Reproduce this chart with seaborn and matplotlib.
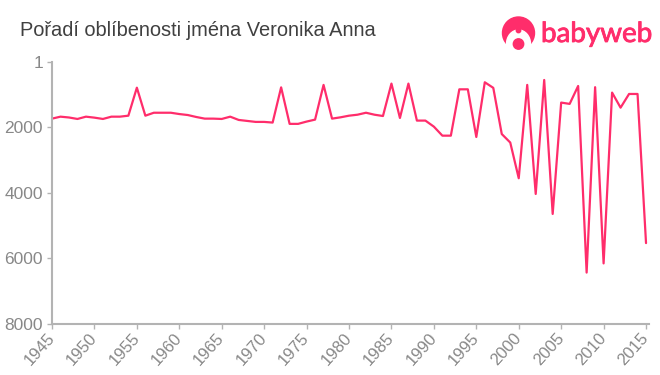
import matplotlib
matplotlib.use("Agg")
import matplotlib.pyplot as plt
from matplotlib.patches import Circle, Ellipse
import matplotlib.patheffects as pe
import pandas as pd
import seaborn as sns

years = list(range(1945, 2016))
ranks = [1730, 1670, 1695, 1740, 1670, 1700, 1740, 1670, 1670, 1640,
         785, 1640, 1550, 1550, 1550, 1590, 1620, 1680, 1730, 1730,
         1740, 1670, 1770, 1800, 1830, 1830, 1850, 775, 1890, 1890,
         1820, 1760, 700, 1730, 1690, 1640, 1610, 1550, 1610, 1650,
         660, 1710, 660, 1790, 1790, 1975, 2250, 2250, 835, 835,
         2290, 620, 790, 2200, 2460, 3550, 700, 4030, 550, 4640,
         1240, 1280, 733, 6430, 770, 6150, 935, 1395, 977, 977,
         5530]
x_ticks = list(range(1945, 2016, 5))
y_ticks = [1, 2000, 4000, 6000, 8000]
title = "Pořadí oblíbenosti jména Veronika Anna"
brand = "babyweb"

PINK = "#ff2d6b"
GREY = "#b3b3b3"

sns.set_theme(style="white")
plt.rcParams["font.family"] = ["Liberation Sans", "DejaVu Sans"]

df = pd.DataFrame({"year": years, "rank": ranks})

fig = plt.figure(figsize=(6.6, 3.75), dpi=100)
ax = fig.add_axes([52 / 660, 1 - 324 / 375, (649 - 52) / 660, (324 - 62) / 375])
sns.lineplot(data=df, x="year", y="rank", color=PINK, linewidth=1.6, ax=ax)

ax.set_xlim(1945, 2015.35)
ax.set_ylim(8000, 1)
ax.set_xticks(x_ticks)
ax.set_yticks(y_ticks)
ax.set_xlabel("")
ax.set_ylabel("")
ax.set_xticklabels(x_ticks, rotation=48, ha="right", va="center", rotation_mode="anchor")
ax.tick_params(axis="both", length=3.5, width=1, color=GREY, labelcolor="#888888",
               labelsize=12.5, pad=3, bottom=True, left=True)
ax.tick_params(axis="x", pad=5, labelsize=12)
for side in ["top", "right"]:
    ax.spines[side].set_visible(False)
for side in ["left", "bottom"]:
    ax.spines[side].set_color(GREY)
    ax.spines[side].set_linewidth(1.5)

fig.text(20 / 660, 1 - 36.5 / 375, title, fontsize=14.4, color="#404040")

# logo, drawn in pixel coordinates
logo = fig.add_axes([0, 0, 1, 1], facecolor="none")
logo.set_xlim(0, 660)
logo.set_ylim(375, 0)
logo.axis("off")
logo.add_patch(Circle((518.5, 33), 16, color=PINK))
logo.add_patch(Ellipse((518.5, 44), 24, 28, color="white"))
logo.add_patch(Circle((518.5, 30.5), 2.2, color=PINK))
logo.add_patch(Circle((518.5, 44), 5.2, color=PINK))
logo.text(541, 42, brand, fontsize=20, color=PINK, family="Lato",
          path_effects=[pe.withStroke(linewidth=0.6, foreground=PINK)])

fig.savefig("out.png", dpi=100)
